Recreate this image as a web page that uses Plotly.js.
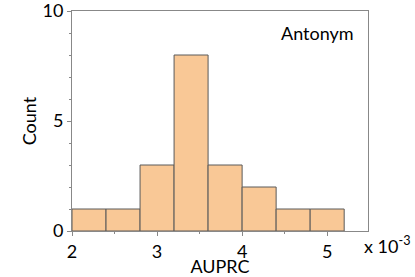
<!DOCTYPE html>
<html>
<head>
<meta charset="utf-8">
<script src="https://cdn.plot.ly/plotly-3.0.1.min.js"></script>
<style>
  html, body { margin: 0; padding: 0; background: #fff; }
  #chart { width: 415px; height: 277px; }
</style>
</head>
<body>
<div id="chart"></div>
<script>
        // bin left edges (x 10^-3) and counts
        var binStart = [2.0, 2.4, 2.8, 3.2, 3.6, 4.0, 4.4, 4.8];
        var counts = [1, 1, 3, 8, 3, 2, 1, 1];
        var binWidth = 0.4;
        var xTicks = [2, 3, 4, 5];
        var yTicks = [0, 5, 10];

        var trace = {
            x: binStart,
            y: counts,
            type: 'bar',
            offset: 0,
            width: binWidth,
            marker: {
                color: '#F9C896',
                line: {color: '#5a5a5a', width: 1}
            },
            hoverinfo: 'none'
        };

        var font = {family: 'Lato, "Open Sans", sans-serif', size: 18, color: '#000'};

        var layout = {
            width: 415,
            height: 277,
            margin: {l: 72, r: 47, t: 11, b: 46},
            paper_bgcolor: '#fff',
            plot_bgcolor: '#fff',
            showlegend: false,
            font: font,
            xaxis: {
                range: [2, 5.48],
                tickmode: 'array',
                tickvals: xTicks,
                showgrid: false,
                zeroline: false,
                showline: true,
                linecolor: '#888',
                linewidth: 1,
                mirror: true,
                ticks: 'outside',
                ticklen: 4,
                tickcolor: '#888',
                ticklabeloverflow: 'allow',
                minor: {dtick: 0.5, tick0: 2, ticks: 'outside', ticklen: 2, tickcolor: '#888'},
                tickfont: font,
                title: {text: 'AUPRC', font: font, standoff: 1}
            },
            yaxis: {
                range: [0, 10],
                tickmode: 'array',
                tickvals: yTicks,
                showgrid: false,
                zeroline: false,
                showline: true,
                linecolor: '#888',
                linewidth: 1,
                mirror: true,
                ticks: 'outside',
                ticklen: 4,
                tickcolor: '#888',
                ticklabeloverflow: 'allow',
                minor: {tickmode: 'linear', dtick: 1, tick0: 0, ticks: 'outside', ticklen: 2, tickcolor: '#888'},
                tickfont: font,
                title: {text: 'Count', font: font, standoff: 1}
            },
            annotations: [
                {
                    text: 'Antonym',
                    xref: 'paper', yref: 'paper',
                    x: 0.96, y: 0.9,
                    xanchor: 'right', yanchor: 'middle',
                    showarrow: false,
                    font: font
                },
                {
                    text: 'x 10<sup>-3</sup>',
                    xref: 'paper', yref: 'paper',
                    x: 1.0, y: 0,
                    xanchor: 'left', yanchor: 'top',
                    xshift: -6, yshift: 0,
                    showarrow: false,
                    font: font
                }
            ]
        };

        Plotly.newPlot('chart', [trace], layout, {staticPlot: true});
</script>
</body>
</html>
